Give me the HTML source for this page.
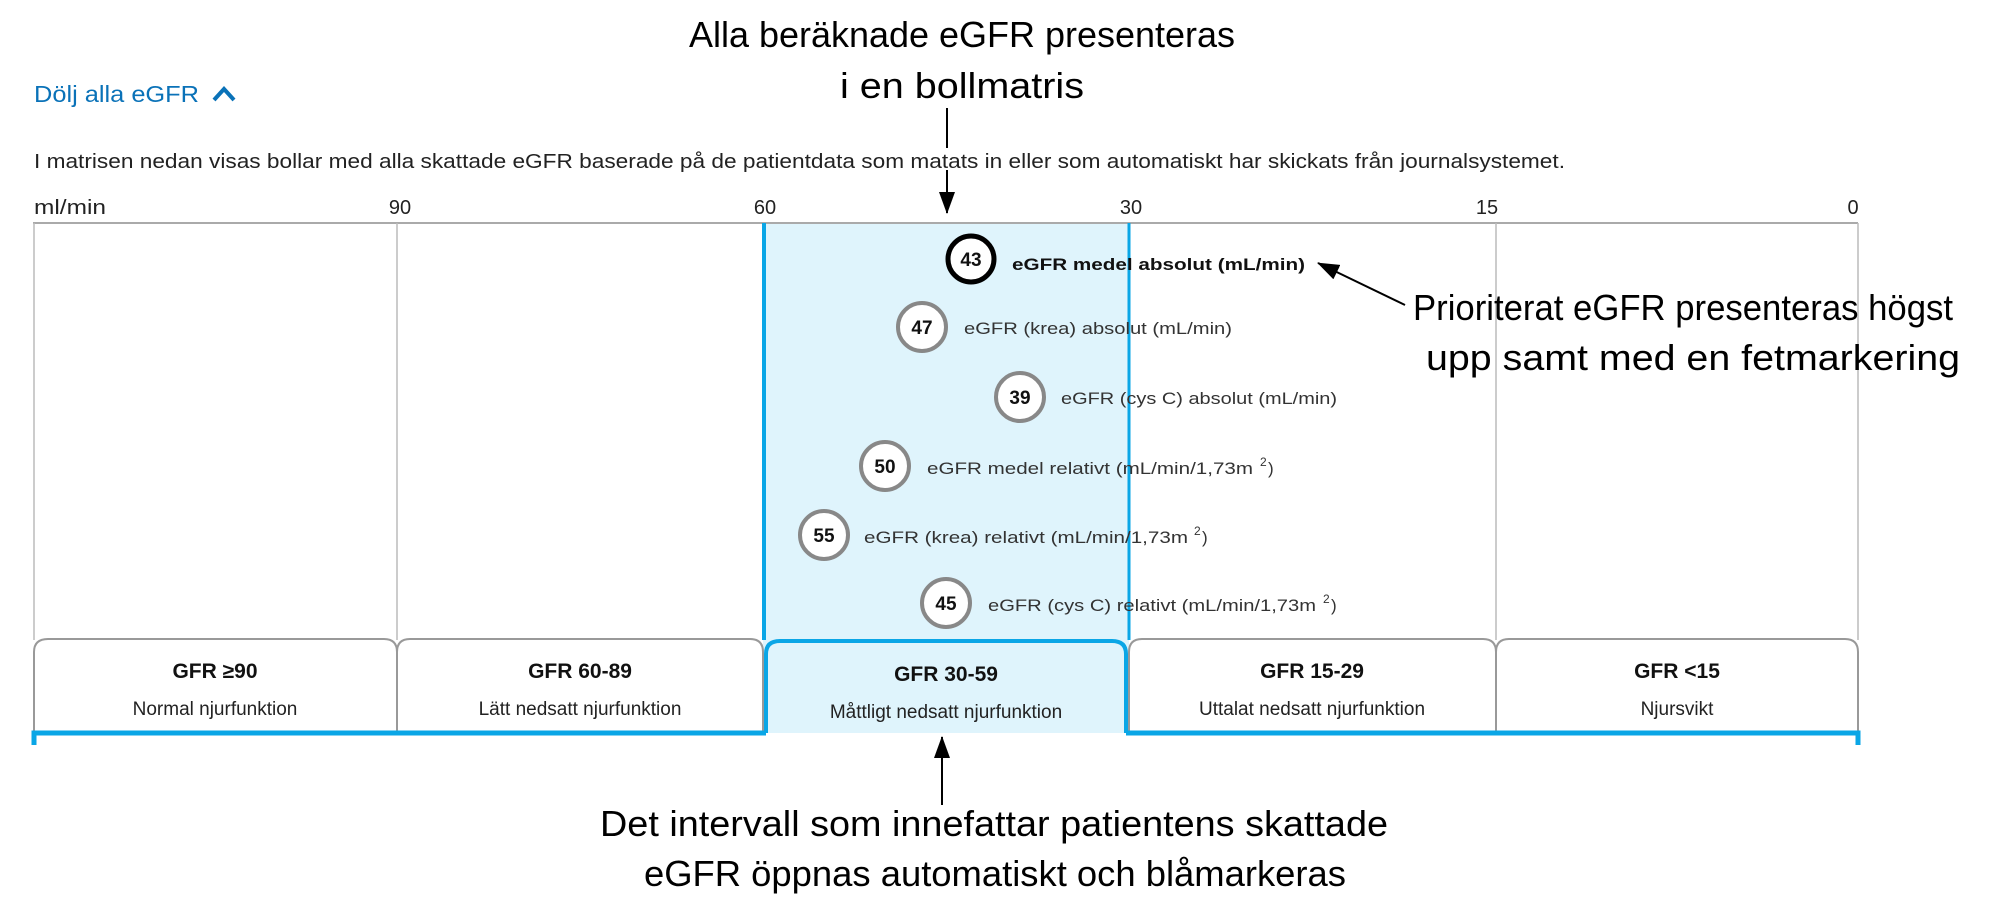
<!DOCTYPE html>
<html><head><meta charset="utf-8"><style>
html,body{margin:0;padding:0;background:#fff;}
svg{display:block;font-family:"Liberation Sans",sans-serif;}
</style></head><body>
<svg width="2000" height="916" viewBox="0 0 2000 916" xmlns="http://www.w3.org/2000/svg">
<defs>
<marker id="ah2" markerWidth="22" markerHeight="16" refX="21" refY="8" orient="auto" markerUnits="userSpaceOnUse">
<path d="M0,0 L22,8 L0,16 Z" fill="#000"/></marker>
</defs>
<text x="962" y="47" font-size="36" text-anchor="middle" textLength="546" lengthAdjust="spacingAndGlyphs">Alla beräknade eGFR presenteras</text>
<text x="962" y="98" font-size="36" text-anchor="middle" textLength="244" lengthAdjust="spacingAndGlyphs">i en bollmatris</text>
<line x1="947" y1="108" x2="947" y2="148" stroke="#000" stroke-width="2"/>
<line x1="947" y1="170" x2="947" y2="213" stroke="#000" stroke-width="2" marker-end="url(#ah2)"/>

<text x="34" y="102" font-size="23" fill="#0a72b8" textLength="165" lengthAdjust="spacingAndGlyphs">Dölj alla eGFR</text>
<path d="M214,100 L224,89 L234,100" fill="none" stroke="#0a72b8" stroke-width="4"/>
<text x="34" y="168" font-size="20" fill="#222" textLength="1531" lengthAdjust="spacingAndGlyphs">I matrisen nedan visas bollar med alla skattade eGFR baserade på de patientdata som matats in eller som automatiskt har skickats från journalsystemet.</text>

<g font-size="20" fill="#222">
<text x="34" y="214" textLength="72" lengthAdjust="spacingAndGlyphs">ml/min</text>
<text x="400" y="214" text-anchor="middle">90</text>
<text x="765" y="214" text-anchor="middle">60</text>
<text x="1131" y="214" text-anchor="middle">30</text>
<text x="1487" y="214" text-anchor="middle">15</text>
<text x="1853" y="214" text-anchor="middle">0</text>
</g>

<rect x="763" y="223" width="366" height="510" fill="#dff4fc"/>
<line x1="33" y1="223" x2="1858" y2="223" stroke="#aaa" stroke-width="2"/>
<g stroke="#bbb" stroke-width="1.5">
<line x1="34" y1="223" x2="34" y2="640"/>
<line x1="397" y1="223" x2="397" y2="640"/>
<line x1="1496" y1="223" x2="1496" y2="640"/>
<line x1="1858" y1="223" x2="1858" y2="640"/>
</g>
<line x1="764" y1="223" x2="764" y2="640" stroke="#0aa6e6" stroke-width="4"/>
<line x1="1129" y1="223" x2="1129" y2="640" stroke="#0aa6e6" stroke-width="3"/>

<g fill="#fff" stroke="#999" stroke-width="2">
<path d="M34,733 L34,652 Q34,639 48,639 L384,639 Q397,639 397,652 L397,733"/>
<path d="M397,733 L397,652 Q397,639 410,639 L750,639 Q763,639 763,652 L763,733"/>
<path d="M1129,733 L1129,652 Q1129,639 1142,639 L1483,639 Q1496,639 1496,652 L1496,733"/>
<path d="M1496,733 L1496,652 Q1496,639 1509,639 L1845,639 Q1858,639 1858,652 L1858,733"/>
</g>
<path d="M766,733 L766,654 Q766,641 780,641 L1112,641 Q1126,641 1126,654 L1126,733" fill="#dff4fc" stroke="#0aa6e6" stroke-width="4"/>
<path d="M34,745 L34,733 L766,733 M1126,733 L1858,733 L1858,745" fill="none" stroke="#0aa6e6" stroke-width="5"/>
<g font-size="21" font-weight="bold" fill="#111" text-anchor="middle">
<text x="215" y="678">GFR ≥90</text>
<text x="580" y="678">GFR 60-89</text>
<text x="946" y="681">GFR 30-59</text>
<text x="1312" y="678">GFR 15-29</text>
<text x="1677" y="678">GFR &lt;15</text>
</g>
<g font-size="19" fill="#222" text-anchor="middle">
<text x="215" y="715">Normal njurfunktion</text>
<text x="580" y="715">Lätt nedsatt njurfunktion</text>
<text x="946" y="718">Måttligt nedsatt njurfunktion</text>
<text x="1312" y="715">Uttalat nedsatt njurfunktion</text>
<text x="1677" y="715">Njursvikt</text>
</g>

<g font-size="19" font-weight="bold" text-anchor="middle" fill="#111">
<circle cx="971" cy="259" r="23" fill="#fff" stroke="#000" stroke-width="5"/>
<text x="971" y="266">43</text>
<circle cx="922" cy="327" r="24" fill="#fff" stroke="#888" stroke-width="4"/>
<text x="922" y="334">47</text>
<circle cx="1020" cy="397" r="24" fill="#fff" stroke="#888" stroke-width="4"/>
<text x="1020" y="404">39</text>
<circle cx="885" cy="466" r="24" fill="#fff" stroke="#888" stroke-width="4"/>
<text x="885" y="473">50</text>
<circle cx="824" cy="535" r="24" fill="#fff" stroke="#888" stroke-width="4"/>
<text x="824" y="542">55</text>
<circle cx="946" cy="603" r="24" fill="#fff" stroke="#888" stroke-width="4"/>
<text x="946" y="610">45</text>
</g>
<g font-size="17" fill="#333">
<text x="1012" y="270" font-weight="bold" fill="#111" textLength="293" lengthAdjust="spacingAndGlyphs">eGFR medel absolut (mL/min)</text>
<text x="964" y="334" textLength="268" lengthAdjust="spacingAndGlyphs">eGFR (krea) absolut (mL/min)</text>
<text x="1061" y="404" textLength="276" lengthAdjust="spacingAndGlyphs">eGFR (cys C) absolut (mL/min)</text>
<text x="927" y="474" textLength="326" lengthAdjust="spacingAndGlyphs">eGFR medel relativt (mL/min/1,73m</text>
<text x="1260" y="466" font-size="12">2</text><text x="1268" y="474">)</text>
<text x="864" y="543" textLength="324" lengthAdjust="spacingAndGlyphs">eGFR (krea) relativt (mL/min/1,73m</text>
<text x="1194" y="535" font-size="12">2</text><text x="1202" y="543">)</text>
<text x="988" y="611" textLength="328" lengthAdjust="spacingAndGlyphs">eGFR (cys C) relativt (mL/min/1,73m</text>
<text x="1323" y="603" font-size="12">2</text><text x="1331" y="611">)</text>
</g>

<line x1="1405" y1="305" x2="1318" y2="263" stroke="#000" stroke-width="2" marker-end="url(#ah2)"/>
<text x="1413" y="320" font-size="36" textLength="540" lengthAdjust="spacingAndGlyphs">Prioriterat eGFR presenteras högst</text>
<text x="1426" y="370" font-size="36" textLength="534" lengthAdjust="spacingAndGlyphs">upp samt med en fetmarkering</text>

<line x1="942" y1="805" x2="942" y2="737" stroke="#000" stroke-width="2" marker-end="url(#ah2)"/>
<text x="994" y="836" font-size="36" text-anchor="middle" textLength="788" lengthAdjust="spacingAndGlyphs">Det intervall som innefattar patientens skattade</text>
<text x="995" y="886" font-size="36" text-anchor="middle" textLength="702" lengthAdjust="spacingAndGlyphs">eGFR öppnas automatiskt och blåmarkeras</text>
</svg>
</body></html>
